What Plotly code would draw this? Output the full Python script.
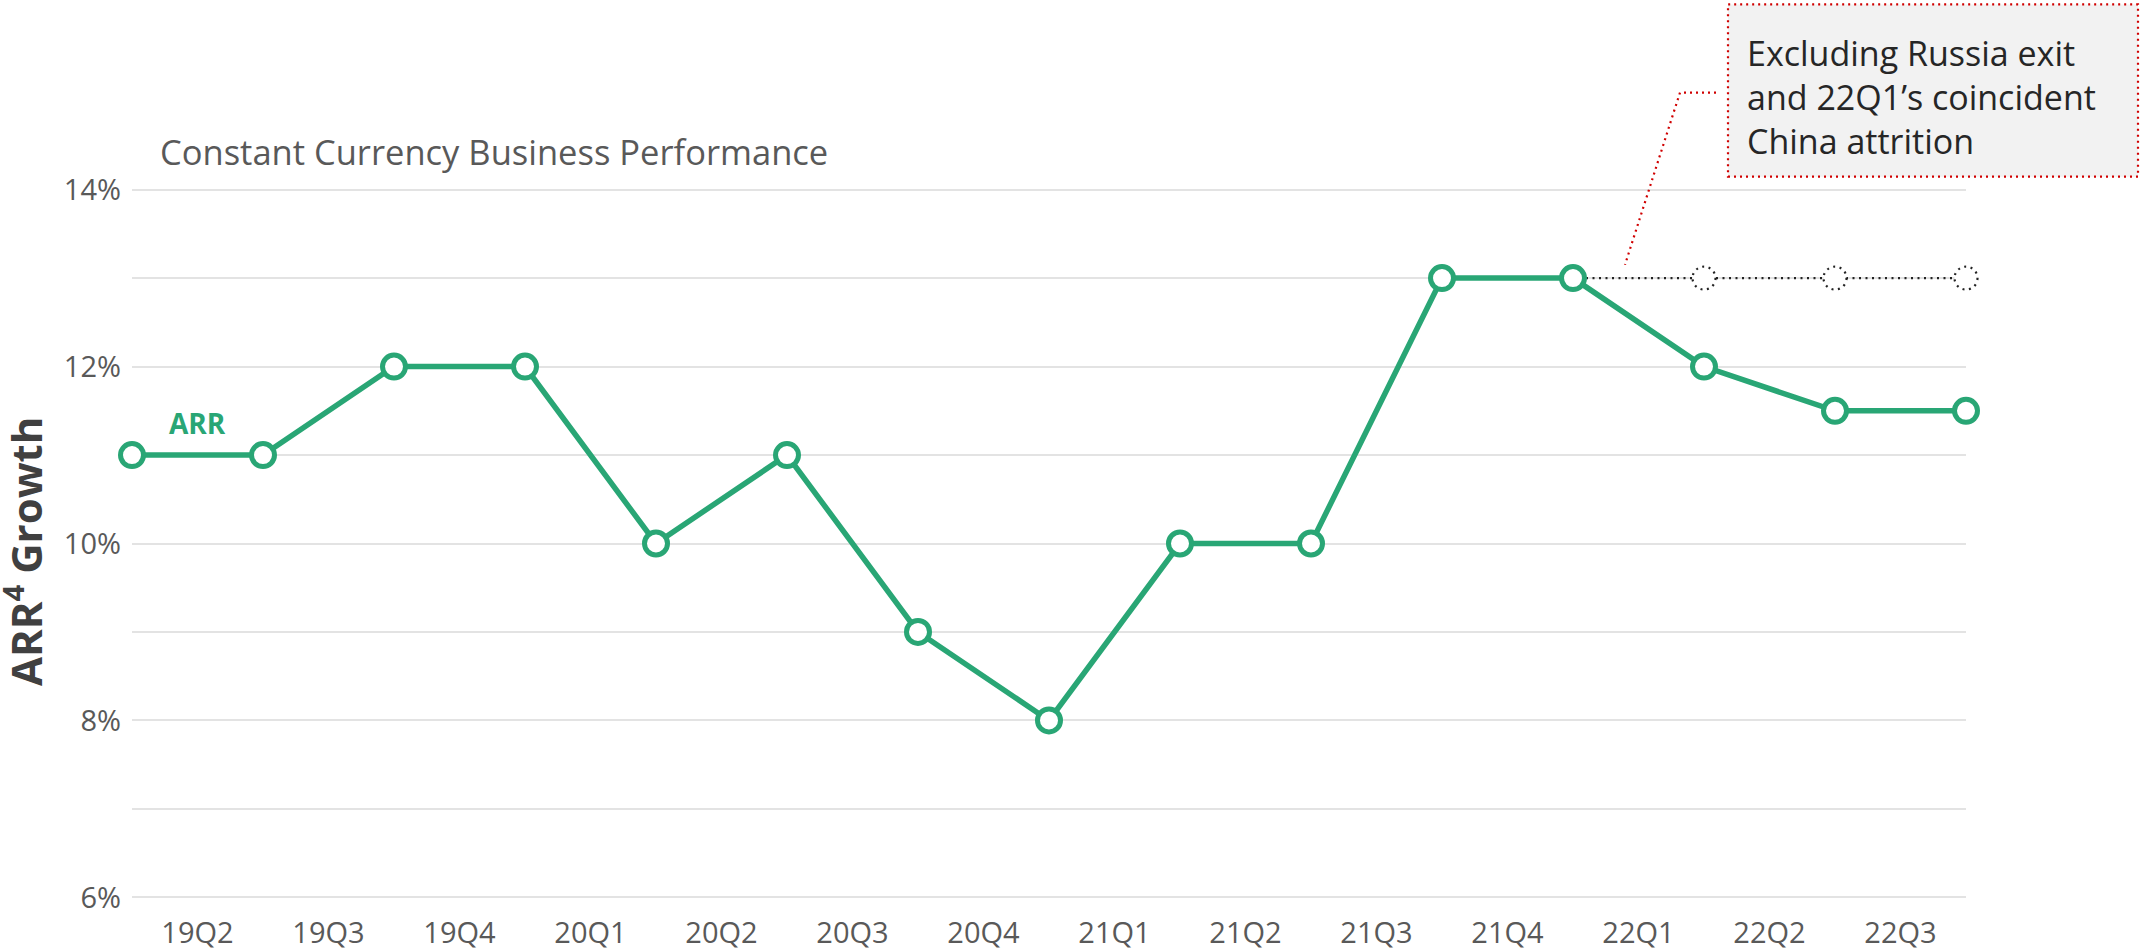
import plotly.graph_objects as go

# ---- data ----
point_index = list(range(15))
arr_growth = [11, 11, 12, 12, 10, 11, 9, 8, 10, 10, 13, 13, 12, 11.5, 11.5]
excl_index = [11, 12, 13, 14]
excl_growth = [13, 13, 13, 13]
quarter_labels = ["19Q2", "19Q3", "19Q4", "20Q1", "20Q2", "20Q3", "20Q4",
                  "21Q1", "21Q2", "21Q3", "21Q4", "22Q1", "22Q2", "22Q3"]
quarter_pos = [i + 0.5 for i in range(len(quarter_labels))]
ytick_vals = [6, 8, 10, 12, 14]
ytick_text = ["6%", "8%", "10%", "12%", "14%"]
yminor_vals = [7, 9, 11, 13]

X_RANGE = [0, 14]
Y_RANGE = [5.97, 14.03]

GREEN = "#29a675"
GRID = "#e3e3e3"
FONT = "Open Sans"

W, H = 2141, 952
# pixel positions of value 14% / 6% and of first / last point
Y14, Y6 = 190.0, 897.0
PPU = (Y6 - Y14) / 8.0
T = Y14 - (Y_RANGE[1] - 14) * PPU
B = (H - Y6) - (6 - Y_RANGE[0]) * PPU
L, R = 132, 175
PW, PH = W - L - R, H - T - B


def px(x):
    return (x - L) / PW


def py(y):
    return (H - B - y) / PH


def dx(v):  # data x -> axis-domain fraction
    return (v - X_RANGE[0]) / (X_RANGE[1] - X_RANGE[0])


def dy(v):  # data y -> axis-domain fraction
    return (v - Y_RANGE[0]) / (Y_RANGE[1] - Y_RANGE[0])


fig = go.Figure()

# dotted "excluding" series
fig.add_trace(go.Scatter(
    x=excl_index, y=excl_growth, mode="lines+markers",
    line=dict(color="#222222", width=2.2, dash="2px,4.5px"),
    marker=dict(size=23, color="white", line=dict(width=0)),
    cliponaxis=False, hoverinfo="skip", showlegend=False))

# ARR series
fig.add_trace(go.Scatter(
    x=point_index, y=arr_growth, mode="lines+markers",
    line=dict(color=GREEN, width=5.5),
    marker=dict(size=23, color="white", line=dict(color=GREEN, width=5)),
    cliponaxis=False, showlegend=False))

shapes = []
# dotted circle outlines for the "excluding" markers (first one is covered by the ARR marker)
for xi, yi in zip(excl_index[1:], excl_growth[1:]):
    shapes.append(dict(type="circle", xref="x domain", yref="y domain",
                       xsizemode="pixel", ysizemode="pixel",
                       xanchor=dx(xi), yanchor=dy(yi), x0=-11.5, x1=11.5, y0=-11.5, y1=11.5,
                       line=dict(color="#222222", width=2.2, dash="2px,4.5px"),
                       fillcolor="rgba(0,0,0,0)", layer="above"))

# callout box
shapes.append(dict(type="rect", xref="paper", yref="paper",
                   x0=px(1728), x1=px(2138), y0=py(177), y1=py(5),
                   fillcolor="#f2f2f2", line=dict(color="#d00000", width=2.2, dash="2px,4px"),
                   layer="above"))
# leader line
shapes.append(dict(type="path", xref="paper", yref="paper",
                   path=f"M {px(1716)} {py(93)} L {px(1680)} {py(93)} L {px(1625)} {py(265)}",
                   line=dict(color="#d00000", width=2.2, dash="2px,4px"), layer="above"))

annotations = [
    dict(text="Constant Currency Business Performance", xref="paper", yref="paper",
         x=px(158), y=py(152), xanchor="left", yanchor="middle", showarrow=False,
         font=dict(family=FONT, size=34.5, color="#595959")),
    dict(text="<b>ARR</b>", xref="x", yref="y", x=0.5, y=11.36, showarrow=False,
         xanchor="center", yanchor="middle",
         font=dict(family=FONT, size=28, color=GREEN)),
    dict(text="<b>ARR<sup>4</sup> Growth</b>", xref="paper", yref="paper",
         x=px(23), y=py(552), xanchor="center", yanchor="middle", textangle=-90,
         showarrow=False, font=dict(family=FONT, size=42, color="#404040")),
    dict(text="Excluding Russia exit<br>and 22Q1’s coincident<br>China attrition",
         xref="paper", yref="paper", x=px(1745), y=py(97), xanchor="left", yanchor="middle",
         align="left", showarrow=False,
         font=dict(family=FONT, size=34, color="#262626")),
]

fig.update_layout(
    width=W, height=H,
    margin=dict(l=L, r=R, t=T, b=B, pad=0, autoexpand=False),
    paper_bgcolor="white", plot_bgcolor="white",
    shapes=shapes, annotations=annotations,
    xaxis=dict(range=X_RANGE, tickvals=quarter_pos, ticktext=quarter_labels,
               showgrid=False, zeroline=False, showline=False, ticks="",
               ticklabelstandoff=13, automargin=False,
               tickfont=dict(family=FONT, size=29, color="#595959")),
    yaxis=dict(range=Y_RANGE, tickvals=ytick_vals, ticktext=ytick_text,
               showgrid=True, gridcolor=GRID, gridwidth=2,
               minor=dict(tickvals=yminor_vals, showgrid=True, gridcolor=GRID, gridwidth=2),
               zeroline=False, showline=False, ticks="", ticklabelstandoff=10,
               automargin=False,
               tickfont=dict(family=FONT, size=29, color="#595959")),
)

fig.write_html("out.html", config={"displayModeBar": False},
               post_script="document.body.style.margin='0px';")
